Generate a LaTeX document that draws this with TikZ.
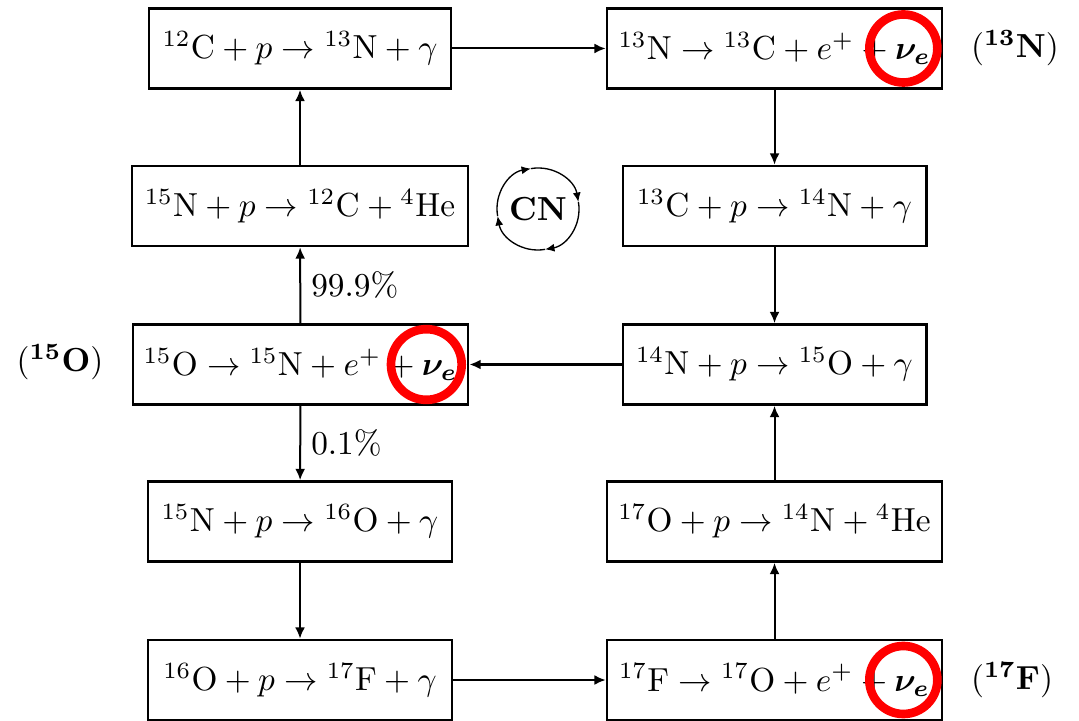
\documentclass[tikz,border=0pt]{standalone}
\usepackage{amsmath}
\usetikzlibrary{arrows.meta,calc}
\begin{document}
\begin{tikzpicture}[x=0.3pt,y=-0.3pt,
  box/.style={draw, line width=0.8pt, minimum height=24pt, inner sep=0pt},
  arr/.style={line width=0.6pt, -{Latex[length=3.4pt,width=3pt]}},
  cyc/.style={line width=0.4pt, -{Latex[length=2.8pt,width=2.4pt]}},
  ring/.style={draw=red, line width=2.6pt},
  lab/.style={right, inner sep=3pt}]
\useasboundingbox (0,0) rectangle (1079,721);
% left column
\node[box, minimum width=90.6pt]  (b1) at (300,48.5)  {$^{12}\mathrm{C}+p\rightarrow{}^{13}\mathrm{N}+\gamma$};
\node[box, minimum width=100.8pt] (b2) at (300,206)   {$^{15}\mathrm{N}+p\rightarrow{}^{12}\mathrm{C}+{}^{4}\mathrm{He}$};
\node[box, minimum width=100.5pt] (b3) at (300.5,364.5) {$^{15}\mathrm{O}\rightarrow{}^{15}\mathrm{N}+e^{+}+\boldsymbol{\nu_e}$};
\node[box, minimum width=91.2pt]  (b4) at (300,521.5) {$^{15}\mathrm{N}+p\rightarrow{}^{16}\mathrm{O}+\gamma$};
\node[box, minimum width=91.2pt]  (b5) at (300,680)   {$^{16}\mathrm{O}+p\rightarrow{}^{17}\mathrm{F}+\gamma$};
% right column
\node[box, minimum width=100.5pt] (b6) at (774.5,48.5)  {$^{13}\mathrm{N}\rightarrow{}^{13}\mathrm{C}+e^{+}+\boldsymbol{\nu_e}$};
\node[box, minimum width=91pt]    (b7) at (774.5,206)   {$^{13}\mathrm{C}+p\rightarrow{}^{14}\mathrm{N}+\gamma$};
\node[box, minimum width=91pt]    (b8) at (774.5,364.5) {$^{14}\mathrm{N}+p\rightarrow{}^{15}\mathrm{O}+\gamma$};
\node[box, minimum width=100.5pt] (b9) at (774.5,521.5) {$^{17}\mathrm{O}+p\rightarrow{}^{14}\mathrm{N}+{}^{4}\mathrm{He}$};
\node[box, minimum width=100.5pt] (b10) at (774.5,680) {$^{17}\mathrm{F}\rightarrow{}^{17}\mathrm{O}+e^{+}+\boldsymbol{\nu_e}$};
% side labels
\node (s15) at (60,362)   {($^{\mathbf{15}}$\textbf{O})};
\node (s13) at (1015,48)  {($^{\mathbf{13}}$\textbf{N})};
\node (s17) at (1012,680) {($^{\mathbf{17}}$\textbf{F})};
% connectors
\draw[arr] (b1) -- (b6);
\draw[arr] (b6) -- (b7);
\draw[arr] (b7) -- (b8);
\draw[arr, line width=0.85pt] (b8) -- (b3);
\draw[arr] (b3) -- node[lab] {$99.9\%$} (b2);
\draw[arr] (b2) -- (b1);
\draw[arr] (b3) -- node[lab] {$0.1\%$} (b4);
\draw[arr] (b4) -- (b5);
\draw[arr] (b5) -- (b10);
\draw[arr] (b10) -- (b9);
\draw[arr] (b9) -- (b8);
% CN cycle
\node (cn) at (538,209) {\textbf{CN}};
\draw[cyc] (cn.center) ++(190:12.3pt) arc[start angle=190, end angle=100, radius=12.3pt];
\draw[cyc] (cn.center) ++(100:12.3pt) arc[start angle=100, end angle=10, radius=12.3pt];
\draw[cyc] (cn.center) ++(10:12.3pt) arc[start angle=10, end angle=-80, radius=12.3pt];
\draw[cyc] (cn.center) ++(-80:12.3pt) arc[start angle=-80, end angle=-170, radius=12.3pt];
% red highlight rings
\draw[ring] ($(b6.east)+(-40,0)$) circle[radius=10.2pt];
\draw[ring] ($(b3.east)+(-43,0)$) circle[radius=10.6pt];
\draw[ring] ($(b10.east)+(-40,0)$) circle[radius=10.2pt];
\end{tikzpicture}
\end{document}
